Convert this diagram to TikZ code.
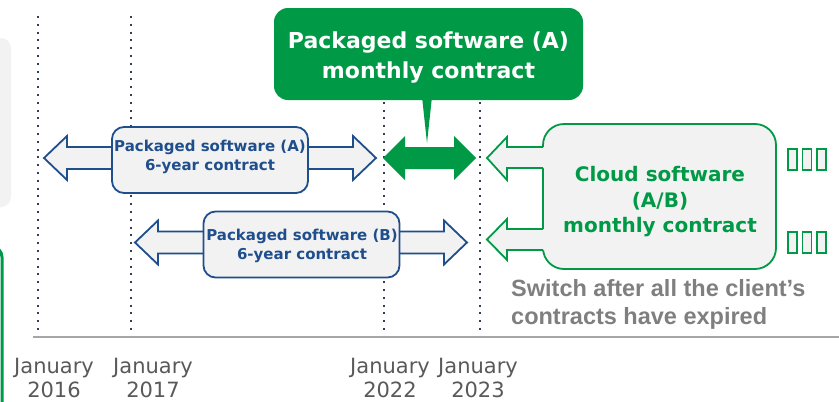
\documentclass[tikz,border=0pt]{standalone}
\usepackage{fontspec}
\setmainfont{DejaVu Sans}
\newfontfamily\arialfont{Liberation Sans}
\definecolor{cgreen}{HTML}{009A46}
\definecolor{cblue}{HTML}{1F4E8C}
\definecolor{cfill}{HTML}{F2F2F2}
\definecolor{cdot}{HTML}{333F50}
\definecolor{caxis}{HTML}{A6A6A6}
\definecolor{cgreytext}{HTML}{7F7F7F}
\definecolor{cdate}{HTML}{595959}
% block double arrow: style, x-left, x-right, y-centre, head length
\newcommand\blockdouble[5]{%
  \path[#1] (#2,#4) -- ++(#5,-22) -- ++(0,11) -- (#3-#5,#4-11) -- ++(0,-11)
    -- (#3,#4) -- ++(-#5,22) -- ++(0,-11) -- (#2+#5,#4+11) -- ++(0,11) -- cycle;}
\begin{document}
\begin{tikzpicture}[x=1pt,y=-1pt,
  dotline/.style={cdot, line width=2pt, dash pattern=on 2pt off 5.8pt},
  bluearrow/.style={draw=cblue, fill=cfill, line width=1.8pt, line join=miter},
  greenarrow/.style={fill=cgreen},
  bluebox/.style={draw=cblue, fill=cfill, line width=1.8pt, rounded corners=12pt,
    minimum width=196pt, minimum height=66pt, inner sep=0pt},
  bluetext/.style={text=cblue, font=\bfseries\fontsize{15}{19}\selectfont, align=center, inner sep=0pt},
  callout/.style={fill=cgreen, rounded corners=14pt, minimum width=309pt, minimum height=92pt, inner sep=0pt},
  callouttext/.style={text=white, font=\bfseries\fontsize{22}{30}\selectfont, align=center, inner sep=0pt},
  cloudbox/.style={draw=cgreen, fill=cfill, line width=1.8pt, rounded corners=21pt,
    minimum width=233pt, minimum height=145pt, inner sep=0pt},
  cloudtext/.style={text=cgreen, font=\bfseries\fontsize{20}{25.5}\selectfont, align=center, inner sep=0pt},
  greenline/.style={draw=cgreen, line width=1.8pt, line join=miter},
  tofu/.style={draw=cgreen, fill=cfill, line width=1.2pt},
  datelbl/.style={text=cdate, font=\fontsize{21}{24.5}\selectfont, align=center, inner sep=0pt},
  greytext/.style={text=cgreytext, font=\arialfont\bfseries\fontsize{23.5}{28}\selectfont, align=left, inner sep=0pt}
]
\useasboundingbox (0,0) rectangle (839,402);
% partial shapes at the left edge
\fill[cfill, rounded corners=10pt] (-30,38) rectangle (11,207);
\draw[cgreen, line width=3pt, rounded corners=10pt] (-30,247) rectangle (2,440);
% year lines
\foreach \n/\x in {a/38,b/131,c/384,d/480}{
  \coordinate (top\n) at (\x,16);
  \coordinate (bot\n) at (\x,341);
  \draw[dotline] (top\n) -- (bot\n);
}
% axis
\coordinate (axl) at (33,337);
\coordinate (axr) at (839,337);
\draw[caxis, line width=1.8pt] (axl) -- (axr);
% dates
\node[datelbl] (d16) at (54,378) {January\\2016};
\node[datelbl] (d17) at (153,378) {January\\2017};
\node[datelbl] (d22) at (390,378) {January\\2022};
\node[datelbl] (d23) at (478,378) {January\\2023};
% packaged software A
\blockdouble{bluearrow}{44}{376}{158}{23}
\node[bluebox] (boxA) at (210,160) {};
\node[bluetext] (tA) at (210,157) {Packaged software (A)\\6-year contract};
% packaged software B
\blockdouble{bluearrow}{135}{467}{242.5}{23}
\node[bluebox] (boxB) at (301.5,244.5) {};
\node[bluetext] (tB) at (302,245.5) {Packaged software (B)\\6-year contract};
% green monthly arrow
\blockdouble{greenarrow}{383}{476}{158}{22}
% callout
\node[callout] (call) at (428.5,54) {};
\node[callouttext] (callt) at (428.5,57.5) {Packaged software (A)\\monthly contract};
\fill[cgreen] (421.5,92) -- (427,143) -- (432.5,92) -- cycle;
% cloud box
\node[cloudbox] (cloud) at (659.5,196.5) {};
\node[cloudtext] (cloudt) at (660,202) {Cloud software\\(A/B)\\monthly contract};
\fill[cfill] (550,147) -- (507,147) -- (507,137) -- (487,158) -- (507,180) -- (507,168) -- (550,168) -- cycle;
\draw[greenline] (543,147) -- (507,147) -- (507,137) -- (487,158) -- (507,180) -- (507,168) -- (543,168);
\fill[cfill] (550,229) -- (507,229) -- (507,219) -- (487,239.5) -- (507,260) -- (507,250) -- (550,250) -- cycle;
\draw[greenline] (543,229) -- (507,229) -- (507,219) -- (487,239.5) -- (507,260) -- (507,250) -- (543,250);
% placeholder boxes
\foreach \x in {788,802.5,817}{
  \draw[tofu] (\x,149) rectangle ++(9,21);
  \draw[tofu] (\x,232) rectangle ++(9,21);
}
% note
\node[greytext, anchor=west] (note) at (511,304) {Switch after all the client’s\\contracts have expired};
\end{tikzpicture}
\end{document}
